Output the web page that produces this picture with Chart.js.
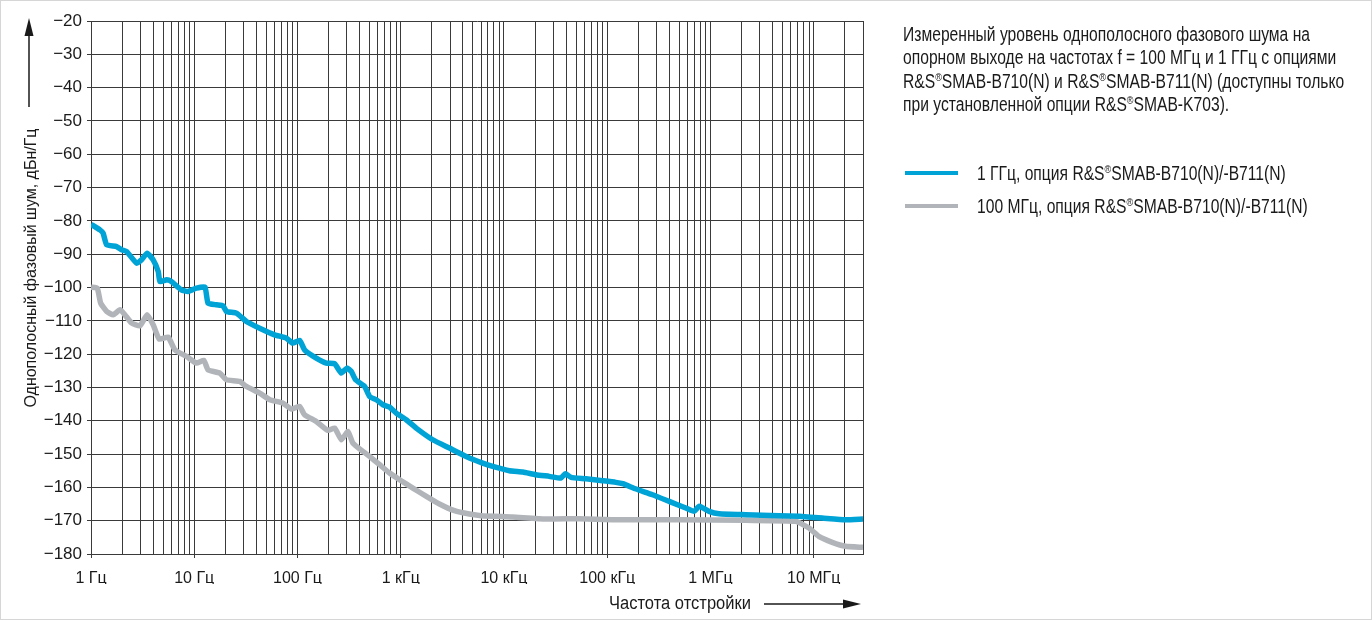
<!DOCTYPE html>
<html>
<head>
<meta charset="utf-8">
<script src="https://cdn.jsdelivr.net/npm/chart.js@4.4.1/dist/chart.umd.min.js"></script>
<style>
  html, body { margin: 0; padding: 0; background: #fff; }
  #wrap { position: relative; width: 1372px; height: 620px; overflow: hidden; }
  #frame { position: absolute; left: 0; top: 0; width: 1372px; height: 620px; box-sizing: border-box; border: 1px solid #d6d6d6; pointer-events: none; }
  #chart { position: absolute; left: 0; top: 0; }
  .txt { position: absolute; font-family: "Liberation Sans", Arial, sans-serif; color: #1a1a1a; white-space: nowrap; transform-origin: 0 0; }
  #note { left: 903px; top: 23px; font-size: 20px; line-height: 23.3px; }
  sup { font-size: 0.58em; vertical-align: 0.62em; line-height: 0; }
  .sw { position: absolute; left: 905px; width: 53px; height: 4px; }
  .lb { left: 977px; font-size: 20px; line-height: 24px; }
</style>
</head>
<body>
<div id="wrap">
  <canvas id="chart" width="1372" height="620"></canvas>
  <div id="note" class="txt">
    Измеренный уровень однополосного фазового шума на<br>
    опорном выходе на частотах f = 100 МГц и 1 ГГц с опциями<br>
    R&amp;S<sup>®</sup>SMAB-B710(N) и R&amp;S<sup>®</sup>SMAB-B711(N) (доступны только<br>
    при установленной опции R&amp;S<sup>®</sup>SMAB-K703).
  </div>
  <div id="legend"></div>
  <div id="frame"></div>
</div>
<script>
const FONT = '"Liberation Sans", Arial, sans-serif';

// x axis: offset frequency, Hz (log)
const decadeValues = [1, 10, 100, 1e3, 1e4, 1e5, 1e6, 1e7];
const decadeLabels = ['1 Гц', '10 Гц', '100 Гц', '1 кГц', '10 кГц', '100 кГц', '1 МГц', '10 МГц'];
const freqMin = 1;
const freqMax = 3e7;

// y axis: SSB phase noise, dBc/Hz
const levelTicks = [-180, -170, -160, -150, -140, -130, -120, -110, -100, -90, -80, -70, -60, -50, -40, -30, -20];

const xTitle = 'Частота отстройки';
const yTitle = 'Однополосный фазовый шум, дБн/Гц';
const seriesNames = ['1 ГГц, опция R&S®SMAB-B710(N)/-B711(N)', '100 МГц, опция R&S®SMAB-B710(N)/-B711(N)'];
const seriesColors = ['#00a3d6', '#b1b5ba'];

// 1 GHz
const ghzFreq = [1, 1.22, 1.31, 1.42, 1.77, 1.98, 2.21, 2.77, 3.09, 3.5,
  4.0, 4.48, 4.65, 5.4, 6.0, 7.5, 8.7, 10.5, 12.7, 13.6,
  16.4, 19, 20.5, 25.6, 32, 43, 60, 78, 90, 105,
  117, 152, 190, 229, 266, 301, 332, 365, 447, 499,
  579, 671, 780, 904, 1130, 1410, 2040, 2960, 4300, 6220,
  7780, 11300, 15200, 20400, 27500, 35600, 39300, 44600, 62200, 90100,
  121000, 141000, 190000, 274000, 398000, 577000, 693000, 776000, 969000, 1.21e6,
  2.19e6, 4.6e6, 7.19e6, 1.21e7, 2.03e7, 3e7];
const ghzLevel = [-81, -82.7, -83.7, -87.2, -87.7, -88.7, -89.2, -92.7, -91.7, -89.7,
  -91.7, -95.2, -98.2, -97.7, -98.2, -100.7, -101.2, -100.2, -99.9, -104.7,
  -105.2, -105.5, -107.2, -107.7, -110.2, -112.2, -114.2, -115.2, -116.7, -115.9,
  -118.7, -121.2, -122.7, -122.9, -125.7, -124.2, -125.2, -127.7, -129.7, -132.7,
  -133.7, -135.2, -135.9, -137.7, -139.7, -142.2, -145.7, -148.2, -150.7, -152.7,
  -153.7, -155.0, -155.4, -156.2, -156.7, -157.2, -155.9, -157.0, -157.4, -158.0,
  -158.5, -158.9, -160.5, -162.2, -164.2, -166.2, -167.2, -165.7, -167.2, -167.9,
  -168.2, -168.5, -168.7, -169.2, -169.7, -169.5];

// 100 MHz
const mhzFreq = [1, 1.15, 1.24, 1.42, 1.64, 1.91, 2.13, 2.48, 2.98, 3.5,
  4.0, 4.58, 5.59, 6.49, 8.43, 10.5, 12.4, 13.6, 17.7, 20.5,
  27.6, 32, 43, 54, 72, 87, 105, 117, 152, 197,
  229, 266, 308, 344, 430, 499, 624, 780, 973, 1310,
  1770, 2370, 3310, 4620, 6020, 12100, 25500, 53600, 112000, 497000,
  2.19e6, 6.68e6, 9.0e6, 1.12e7, 1.51e7, 2.03e7, 3e7];
const mhzLevel = [-99.9, -100.2, -104.7, -107.2, -108.2, -106.7, -108.2, -110.7, -111.5, -108.2,
  -111.2, -115.5, -114.9, -118.7, -120.7, -122.7, -121.9, -124.7, -125.7, -127.7,
  -128.2, -129.7, -131.7, -133.7, -134.7, -136.5, -135.7, -138.2, -140.2, -142.9,
  -142.2, -145.7, -143.2, -146.7, -149.2, -150.7, -153.2, -155.7, -157.7, -160.2,
  -162.7, -165, -167, -168, -168.5, -168.9, -169.5, -169.4, -169.7, -169.7,
  -169.9, -170.2, -172.2, -174.7, -176.5, -177.7, -178.0];

const toPoints = (xs, ys) => xs.map((x, i) => ({ x: x, y: ys[i] }));
const isDecade = v => Math.abs(Math.log10(v) - Math.round(Math.log10(v))) < 1e-9;
const minus = v => String(v).replace('-', '\u2212');

// the print uses a condensed face; squeeze Liberation Sans to the same line length
const mc = document.createElement('canvas').getContext('2d');
mc.font = '20px ' + FONT;
const squeeze = 407 / mc.measureText('Измеренный уровень однополосного фазового шума на').width;
document.getElementById('note').style.transform = 'scaleX(' + squeeze + ')';

const legend = document.getElementById('legend');
[173, 206].forEach((cy, i) => {
  const sw = document.createElement('div');
  sw.className = 'sw';
  sw.style.top = (cy - 2) + 'px';
  sw.style.background = seriesColors[i];
  const lb = document.createElement('div');
  lb.className = 'txt lb';
  lb.style.top = (cy - 12) + 'px';
  lb.style.transform = 'scaleX(' + squeeze + ')';
  lb.innerHTML = seriesNames[i].replace(/&/g, '&amp;').replace('®', '<sup>®</sup>');
  legend.appendChild(sw);
  legend.appendChild(lb);
});

// text squeezed to a given length, centred on (x, y)
function fitText(ctx, text, x, y, len, angle, size) {
  ctx.save();
  ctx.font = size + 'px ' + FONT;
  const w = ctx.measureText(text).width;
  ctx.translate(x, y);
  ctx.rotate(angle);
  ctx.scale(len / w, 1);
  ctx.textAlign = 'center';
  ctx.textBaseline = 'middle';
  ctx.fillText(text, 0, 0);
  ctx.restore();
}

const titles = {
  id: 'titles',
  afterDraw(chart) {
    const ctx = chart.ctx;
    ctx.save();
    ctx.strokeStyle = '#1a1a1a';
    ctx.fillStyle = '#1a1a1a';
    ctx.lineWidth = 1.5;
    // y title + arrow
    fitText(ctx, yTitle, 31, 268, 279, -Math.PI / 2, 17);
    ctx.beginPath(); ctx.moveTo(29, 107); ctx.lineTo(29, 34); ctx.stroke();
    ctx.beginPath(); ctx.moveTo(29, 18); ctx.lineTo(24.5, 36); ctx.lineTo(33.5, 36); ctx.closePath(); ctx.fill();
    // x title + arrow
    fitText(ctx, xTitle, 680, 604, 142, 0, 18);
    ctx.beginPath(); ctx.moveTo(764, 604); ctx.lineTo(845, 604); ctx.stroke();
    ctx.beginPath(); ctx.moveTo(861, 604); ctx.lineTo(843, 599.5); ctx.lineTo(843, 608.5); ctx.closePath(); ctx.fill();
    ctx.restore();
  }
};

new Chart(document.getElementById('chart'), {
  type: 'line',
  data: {
    datasets: [
      { label: seriesNames[0], data: toPoints(ghzFreq, ghzLevel), borderColor: seriesColors[0], borderWidth: 5.5, pointRadius: 0, tension: 0.15, borderJoinStyle: 'round' },
      { label: seriesNames[1], data: toPoints(mhzFreq, mhzLevel), borderColor: seriesColors[1], borderWidth: 5.5, pointRadius: 0, tension: 0.15, borderJoinStyle: 'round' }
    ]
  },
  options: {
    responsive: false,
    animation: false,
    layout: { padding: { left: 0, top: 21, right: 509, bottom: 36 } },
    plugins: { legend: { display: false }, tooltip: { enabled: false } },
    scales: {
      x: {
        type: 'logarithmic',
        min: freqMin,
        max: freqMax,
        afterFit: s => { s.height = 30; },
        afterBuildTicks: s => {
          const t = [];
          decadeValues.forEach(d => {
            for (let k = 1; k <= 9; k++) if (k * d <= freqMax) t.push({ value: k * d });
          });
          t.push({ value: freqMax });
          s.ticks = t;
        },
        grid: {
          color: '#3a3a3a',
          lineWidth: 1,
          tickLength: 4,
          tickColor: c => (c.tick && isDecade(c.tick.value)) ? '#3a3a3a' : 'rgba(0,0,0,0)'
        },
        border: { color: '#3a3a3a', width: 1 },
        ticks: {
          autoSkip: false,
          maxRotation: 0,
          padding: 11,
          color: '#1a1a1a',
          font: { family: FONT, size: 16 },
          callback: v => {
            const i = decadeValues.indexOf(v);
            return i >= 0 ? decadeLabels[i] : '';
          }
        }
      },
      y: {
        type: 'linear',
        min: -180,
        max: -20,
        afterFit: s => { s.width = 91; },
        afterBuildTicks: s => { s.ticks = levelTicks.map(v => ({ value: v })); },
        grid: { color: '#3a3a3a', lineWidth: 1, tickLength: 4, tickColor: '#3a3a3a' },
        border: { color: '#3a3a3a', width: 1 },
        ticks: {
          padding: 5,
          color: '#1a1a1a',
          font: { family: FONT, size: 17 },
          callback: v => minus(v)
        }
      }
    }
  },
  plugins: [titles]
});
</script>
</body>
</html>
